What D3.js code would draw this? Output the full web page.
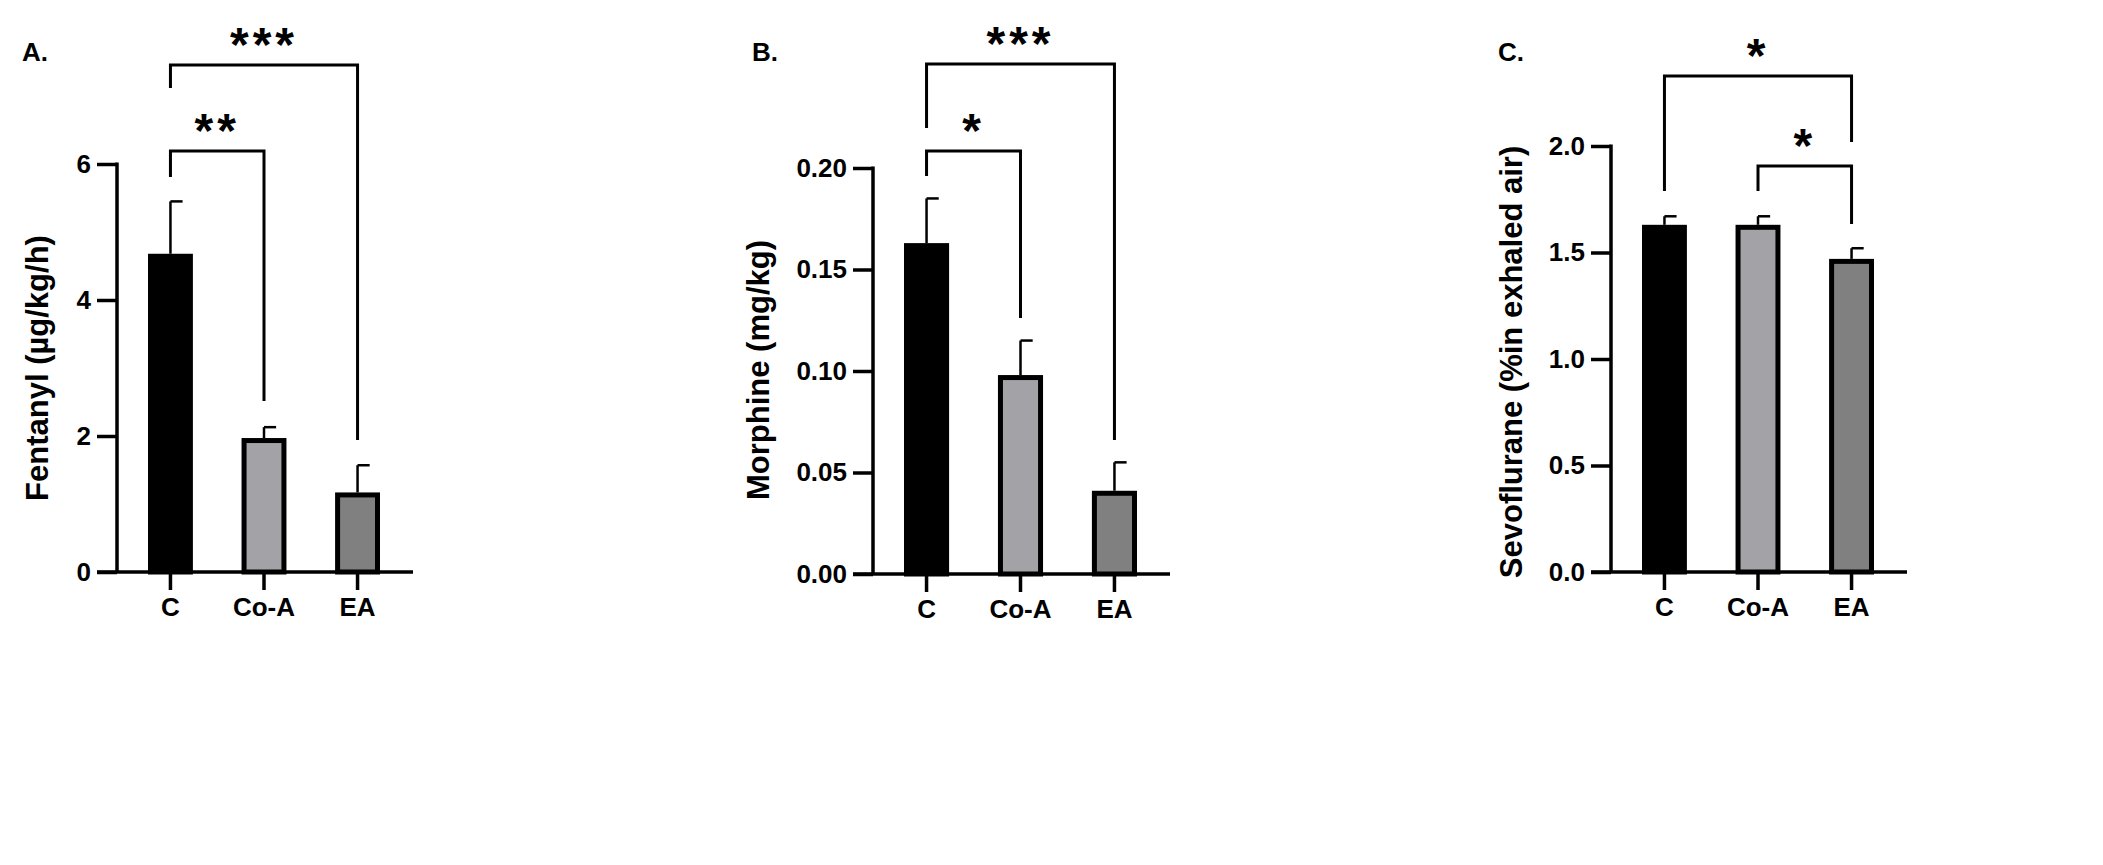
<!DOCTYPE html>
<html><head><meta charset="utf-8">
<script src="https://cdn.jsdelivr.net/npm/d3@7"></script>
<style>body{margin:0;background:#fff}text{font-family:Arial,"Liberation Sans",sans-serif;font-weight:bold}</style>
</head><body><svg id="chart" width="2103" height="865"></svg>
<script>
var groups = ["C", "Co-A", "EA"];
var fills = ["#000000", "#a3a3a7", "#808080"];

var fentanylMean = [4.68, 1.97, 1.17];
var fentanylErr = [5.45, 2.13, 1.57];
var fentanylTicks = [0, 2, 4, 6];

var morphineMean = [0.163, 0.098, 0.041];
var morphineErr = [0.185, 0.115, 0.055];
var morphineTicks = [0, 0.05, 0.10, 0.15, 0.20];

var sevoMean = [1.63, 1.63, 1.47];
var sevoErr = [1.67, 1.67, 1.52];
var sevoTicks = [0, 0.5, 1.0, 1.5, 2.0];

var svg = d3.select("#chart");

function plot_panel(p){
   var g = svg.append("g");
   var y = d3.scaleLinear().domain([0, p.max]).range([p.y0, p.ytop]);
   var x = d3.scaleBand().domain(groups).range([p.bx0, p.bx1]).paddingInner(0.52).paddingOuter(0);

   // bars
   groups.forEach(function(k, i){
      var bx = x(k), bw = x.bandwidth();
      g.append("line").attr("x1", bx + bw/2).attr("x2", bx + bw/2)
         .attr("y1", y(p.mean[i])).attr("y2", y(p.err[i])).attr("stroke", "#000").attr("stroke-width", 2.5);
      g.append("line").attr("x1", bx + bw/2).attr("x2", bx + bw/2 + bw*0.27)
         .attr("y1", y(p.err[i])).attr("y2", y(p.err[i])).attr("stroke", "#000").attr("stroke-width", 2.5);
      g.append("rect").attr("x", bx + 2.5).attr("width", bw - 5)
         .attr("y", y(p.mean[i]) + 2.5).attr("height", y(0) - y(p.mean[i]) - 2.5)
         .attr("fill", fills[i]).attr("stroke", "#000").attr("stroke-width", 5);
   });

   // axes
   var yAxis = d3.axisLeft(y).tickValues(p.ticks).tickFormat(d3.format(p.fmt)).tickSize(20).tickPadding(6);
   var ya = g.append("g").attr("transform", "translate(" + p.ax + ",0)").call(yAxis);
   ya.select(".domain").remove();
   ya.append("line").attr("x1", 0).attr("x2", 0).attr("y1", y(p.max) - 1.5).attr("y2", y(0)).attr("stroke", "#000").attr("stroke-width", 3.5);
   ya.selectAll(".tick line").attr("stroke-width", 3.5);
   ya.selectAll(".tick text").attr("font-size", 26).attr("fill", "#000");

   var xAxis = d3.axisBottom(x).tickSize(18).tickPadding(8);
   var xa = g.append("g").attr("transform", "translate(0," + y(0) + ")").call(xAxis);
   xa.select(".domain").remove();
   xa.append("line").attr("x1", p.ax - 20).attr("x2", p.xend).attr("stroke", "#000").attr("stroke-width", 3.5);
   xa.selectAll(".tick line").attr("stroke-width", 3.5);
   xa.selectAll(".tick text").attr("font-size", 26).attr("fill", "#000");

   // y title
   g.append("text").attr("transform", "translate(" + p.tx + "," + p.ty + ") rotate(-90)")
      .attr("text-anchor", "middle").attr("font-size", 31).text(p.title);

   // panel letter
   g.append("text").attr("x", p.lx).attr("y", 61).attr("font-size", 26).text(p.letter);

   // significance brackets
   p.brackets.forEach(function(b){
      var xa1 = x(groups[b.a]) + x.bandwidth()/2, xb1 = x(groups[b.b]) + x.bandwidth()/2;
      g.append("path").attr("fill", "none").attr("stroke", "#000").attr("stroke-width", 3)
         .attr("d", "M" + xa1 + "," + b.la + "V" + b.y + "H" + xb1 + "V" + b.lb);
      g.append("text").attr("x", (xa1 + xb1)/2).attr("y", b.y - 4).attr("text-anchor", "middle")
         .attr("font-size", 48).attr("letter-spacing", 4).text(b.s);
   });
}

plot_panel({mean: fentanylMean, err: fentanylErr, ticks: fentanylTicks, max: 6, fmt: "d",
   ax: 117, xend: 413, bx0: 148, bx1: 380, y0: 572, ytop: 164, tx: 48, ty: 368, lx: 22, letter: "A.",
   title: "Fentanyl (\u00b5g/kg/h)",
   brackets: [{a: 0, b: 1, y: 151, la: 177, lb: 401, s: "**"}, {a: 0, b: 2, y: 65, la: 88, lb: 440, s: "***"}]});

plot_panel({mean: morphineMean, err: morphineErr, ticks: morphineTicks, max: 0.2, fmt: ".2f",
   ax: 873, xend: 1170, bx0: 904, bx1: 1137, y0: 574, ytop: 168, tx: 769, ty: 370, lx: 752, letter: "B.",
   title: "Morphine (mg/kg)",
   brackets: [{a: 0, b: 1, y: 151, la: 176, lb: 318, s: "*"}, {a: 0, b: 2, y: 64, la: 128, lb: 440, s: "***"}]});

plot_panel({mean: sevoMean, err: sevoErr, ticks: sevoTicks, max: 2, fmt: ".1f",
   ax: 1611, xend: 1907, bx0: 1642, bx1: 1874, y0: 572, ytop: 146, tx: 1522, ty: 362, lx: 1498, letter: "C.",
   title: "Sevoflurane (%in exhaled air)",
   brackets: [{a: 0, b: 2, y: 76, la: 191, lb: 142, s: "*"}, {a: 1, b: 2, y: 166, la: 191, lb: 224, s: "*"}]});
</script>
</body></html>
